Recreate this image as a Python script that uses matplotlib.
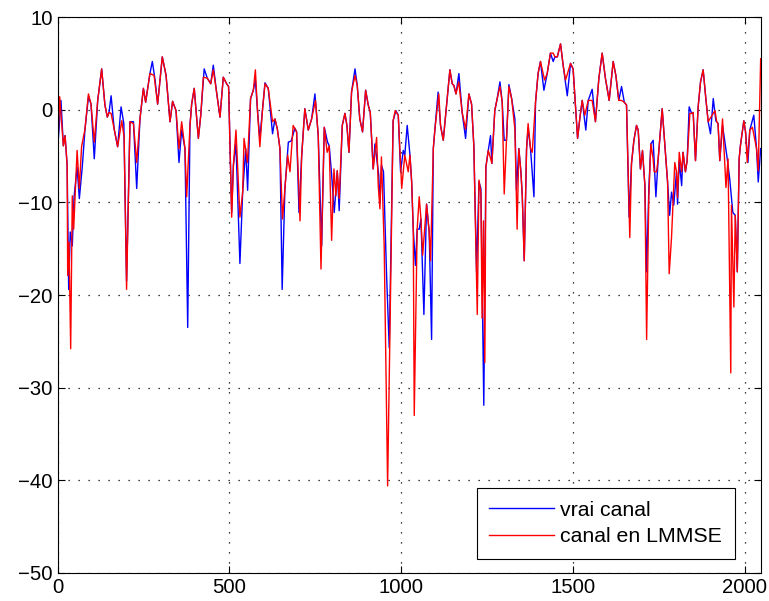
import matplotlib
matplotlib.use("Agg")
import matplotlib.pyplot as plt

# vrai canal (blue) : sample index / amplitude in dB
x_vrai = [0, 10, 17, 22, 28, 32.5, 37, 43, 48, 57, 63.5, 72, 80, 90, 97.5, 107, 117, 128.5, 138, 145,
          150, 156, 165, 175, 185, 193, 201, 211, 221, 230.5, 240, 250, 256.5, 269, 276, 284, 291.5, 305, 316, 327.5,
          335, 345, 353.6, 361.4, 371, 379, 385.6, 390.5, 398, 410, 417, 427, 436, 446, 453.5, 463, 473, 482.6, 492.3, 498,
          507, 512, 519.5, 531, 539, 548, 553.4, 562, 570, 576, 582.5, 589, 597, 604, 613.5, 626, 633, 640, 647.5, 654,
          662, 672, 680, 691, 696, 703, 710.6, 720, 730, 739.7, 749.4, 759, 769, 776.6, 786, 791, 798, 805.6, 814.4, 820,
          829, 836.7, 842.5, 848.4, 856, 866, 872.6, 880, 888, 897, 904.6, 910.5, 919, 924, 935, 938.6, 943, 949, 958, 965.7,
          977, 985, 992, 998.7, 1006.5, 1011, 1018, 1026, 1031, 1035.6, 1042, 1047, 1053, 1058, 1066.6, 1074.4, 1082, 1089, 1094, 1098.7,
          1108, 1115, 1123, 1132.6, 1142.3, 1149, 1154, 1160, 1168.5, 1178, 1188, 1197.6, 1205.4, 1212, 1220, 1227, 1232.5, 1241, 1247, 1254,
          1260.6, 1264.5, 1273, 1280, 1288, 1294.6, 1300.4, 1307, 1314, 1322, 1331.5, 1336, 1343, 1349, 1353, 1358.7, 1365.5, 1370, 1377, 1387,
          1391.6, 1399, 1406, 1416, 1425.6, 1435, 1443, 1448, 1455, 1464.4, 1472, 1484, 1493.5, 1501, 1506, 1514, 1521, 1527.5, 1538, 1545,
          1556.5, 1566, 1576, 1585.6, 1595, 1606, 1617.7, 1625.4, 1634, 1642, 1650, 1656.5, 1664, 1671, 1678, 1685.6, 1690.5, 1697, 1703, 1710,
          1715, 1721.5, 1727.3, 1734, 1742, 1748.7, 1760.3, 1771, 1776, 1782, 1787.5, 1794, 1802, 1805, 1810, 1817, 1821, 1828, 1833, 1838.9,
          1846, 1850.5, 1857.3, 1865, 1872, 1879.6, 1887.4, 1894.2, 1901, 1909, 1916.5, 1923, 1928, 1936, 1949, 1957, 1966, 1973, 1979, 1984.4,
          1988, 1998, 2003, 2010, 2015.4, 2027, 2035, 2040, 2047]
y_vrai = [-4.5, 1.0, -3.9, -2.8, -6.0, -19.4, -13.2, -14.7, -9.5, -6.2, -9.6, -6.2, -2.1, 1.4, 0.6, -5.3, 1.0, 4.4, 0.5, -0.8,
          -0.3, 1.5, -2.1, -4.0, 0.3, -1.5, -18.5, -1.3, -1.3, -8.5, -1.0, 2.3, 0.8, 3.9, 5.2, 3.2, 0.6, 5.7, 3.7, -1.3,
          0.9, -0.1, -5.7, -2.2, -4.2, -23.5, -1.7, 0.6, 2.3, -3.1, -0.6, 4.4, 3.4, 2.8, 4.8, 1.9, -0.8, 3.5, 2.8, 2.5,
          -11.1, -6.0, -3.7, -16.6, -8.9, -4.2, -8.7, 1.2, 2.1, 3.2, -0.3, -3.1, 0.1, 2.9, 2.3, -2.6, -1.0, -2.1, -4.2, -19.4,
          -8.5, -3.5, -3.4, -2.0, -2.4, -11.1, -5.1, 0.1, -2.2, -1.0, 1.7, -2.8, -14.7, -1.9, -3.5, -3.9, -7.0, -11.1, -6.6, -10.9,
          -1.7, -0.4, -1.7, -4.6, 1.9, 4.4, 2.6, -1.0, -2.4, 2.1, 0.5, -0.3, -6.4, -3.7, -7.0, -10.1, -6.0, -6.7, -17.9, -25.7,
          -1.2, -0.1, -0.6, -6.7, -4.4, -4.9, -1.7, -4.9, -7.8, -12.9, -16.8, -12.9, -12.9, -11.8, -22.1, -10.2, -13.2, -24.8, -4.2, -2.1,
          1.9, -1.7, -3.3, 0.5, 4.3, 2.8, 2.6, 1.7, 3.9, -0.3, -3.1, 1.7, 0.6, -3.9, -17.5, -7.8, -8.5, -31.9, -6.2, -4.4,
          -2.8, -5.8, -0.1, 1.2, 3.0, 0.8, -3.3, -3.3, 2.7, 1.2, -1.0, -8.7, -4.2, -6.7, -9.3, -16.3, -4.2, -2.0, -4.2, -9.4,
          0.8, 3.9, 5.2, 2.1, 3.9, 6.1, 5.2, 5.7, 5.7, 7.1, 4.8, 1.5, 5.0, 4.4, 1.5, -3.1, -0.8, 1.0, -2.2, 1.0,
          2.2, -1.3, 3.4, 6.1, 3.4, 1.0, 5.2, 3.7, 1.0, 2.5, 0.8, 0.5, -11.6, -5.8, -3.3, -1.7, -2.2, -6.4, -4.4, -8.2,
          -17.5, -8.5, -3.7, -3.3, -9.4, -5.3, 0.1, -5.3, -7.8, -11.4, -8.9, -10.3, -6.7, -10.2, -5.5, -8.2, -4.6, -6.7, -5.5, 0.3,
          -0.4, -0.3, -5.5, 0.3, 3.0, 4.3, 1.2, -1.3, -2.6, 1.2, -1.2, -1.5, -5.5, -1.7, -5.1, -7.5, -11.1, -11.4, -17.5, -5.3,
          -3.9, -1.2, -2.4, -5.7, -2.2, -0.6, -4.2, -7.8, -4.2]

# canal en LMMSE (red)
x_lmmse = [0, 6.3, 17, 22, 28, 29.6, 33.4, 38.3, 43, 47, 57, 63.5, 70, 80, 90, 97.5, 107, 117, 128.5, 138,
           145, 150, 156, 165, 175, 187, 194, 201, 211, 221, 230.5, 240, 250, 256.5, 269, 281, 291.5, 305, 316, 327.5,
           335, 345, 353.6, 361.4, 371, 376, 385.6, 390.5, 398, 410, 417, 424.4, 436, 446, 453.5, 463, 473, 482.6, 492.3, 498,
           507, 512, 519.5, 531, 539, 543, 553, 562, 570, 576, 582.5, 589, 597, 604, 613.5, 626, 633, 640, 647.5, 655,
           662, 670, 676.7, 686, 696, 706, 710.6, 720, 730, 739.7, 751, 759, 767, 776.6, 785, 791, 798, 804.7, 810.5, 814.4,
           820, 829, 836.7, 842.5, 848.4, 856, 866, 872.6, 880, 888, 897, 904.6, 910.5, 919, 929, 933.7, 938.6, 943, 951, 961,
           977, 983, 992, 1002, 1011, 1021, 1026, 1031, 1035.6, 1038.5, 1047, 1053, 1058, 1063, 1074.4, 1082, 1086, 1094, 1098.7, 1110,
           1115, 1123, 1132.6, 1142.3, 1149, 1154, 1160, 1168, 1178, 1188, 1197.6, 1205.4, 1212, 1222, 1227, 1232.5, 1236, 1240, 1244, 1247,
           1254, 1258, 1264.5, 1273, 1280, 1288, 1294.6, 1300.4, 1307, 1314, 1322, 1331.5, 1338, 1343, 1349, 1353, 1358.7, 1365.5, 1370, 1377,
           1382, 1391.6, 1399, 1406, 1418, 1425.6, 1435, 1443, 1448, 1455, 1464.4, 1472, 1479, 1493.5, 1501, 1506, 1514, 1521, 1527.5, 1535,
           1545, 1556.5, 1566, 1576, 1585.6, 1595, 1606, 1617.7, 1625.4, 1634, 1642, 1650, 1656.5, 1666, 1671, 1678, 1685.6, 1690.5, 1697, 1703,
           1710, 1715, 1721.5, 1727.3, 1734, 1737, 1744, 1748.7, 1760.3, 1771, 1776, 1780.7, 1787.5, 1797, 1802, 1805, 1810, 1817, 1821, 1828,
           1833, 1841, 1846, 1850.5, 1857.3, 1865, 1872, 1879.6, 1887.4, 1894.2, 1899, 1914, 1919, 1923, 1928, 1936, 1946, 1952, 1960, 1962,
           1969, 1973, 1979, 1984.4, 1988, 1998, 2003, 2008, 2015.4, 2023, 2035, 2040, 2047]
y_lmmse = [-4.9, 1.4, -3.9, -2.8, -6.0, -17.9, -14.3, -25.8, -9.3, -12.9, -4.4, -8.5, -4.0, -2.1, 1.7, 0.6, -3.5, 1.0, 4.4, 0.5,
           -0.8, -0.3, -0.4, -2.1, -4.0, -1.2, -3.0, -19.4, -1.3, -1.5, -5.7, -1.0, 2.3, 0.8, 3.9, 3.7, 0.6, 5.7, 3.7, -1.3,
           0.9, -0.1, -4.2, -1.3, -4.2, -9.4, -1.7, 0.6, 2.3, -3.1, -0.6, 3.5, 3.4, 2.8, 4.3, 1.9, -0.8, 3.5, 2.8, 2.5,
           -11.6, -6.0, -2.2, -11.6, -8.9, -3.1, -5.7, 1.2, 2.1, 4.3, -0.3, -4.0, 0.1, 2.8, 2.3, -1.3, -1.0, -2.1, -4.2, -11.8,
           -8.5, -4.9, -6.7, -1.7, -2.4, -12.0, -5.1, 0.1, -2.2, -1.0, 1.0, -2.8, -17.2, -1.9, -4.6, -3.9, -14.1, -6.4, -9.3, -6.6,
           -9.6, -1.7, -0.4, -1.7, -4.6, 1.9, 3.7, 2.6, -1.0, -2.4, 2.1, 0.5, -0.3, -6.4, -3.0, -8.2, -10.7, -5.1, -14.7, -40.6,
           -1.2, -0.1, -0.6, -8.5, -4.9, -6.7, -4.9, -7.8, -12.9, -33.0, -12.9, -9.4, -11.8, -15.7, -10.2, -13.2, -16.3, -4.2, -2.1, 1.7,
           -1.7, -3.3, 0.5, 4.3, 2.8, 2.6, 1.7, 3.0, -0.3, -2.1, 1.7, 0.6, -3.9, -22.1, -7.6, -9.0, -22.5, -12.0, -27.3, -6.2,
           -4.4, -4.9, -5.8, -0.1, 1.2, 2.5, 0.8, -9.1, -3.3, 2.5, 1.2, -2.1, -12.9, -4.2, -6.7, -9.3, -16.3, -4.2, -1.5, -4.2,
           -4.6, 0.8, 3.9, 5.2, 3.2, 3.9, 6.1, 6.1, 5.7, 5.7, 7.1, 4.8, 3.2, 5.0, 4.4, 1.5, -3.1, -0.8, 1.0, -0.6,
           1.0, 1.0, -1.3, 3.4, 6.1, 3.4, 1.0, 5.2, 3.7, 1.0, 1.0, 0.8, 0.5, -13.8, -5.8, -3.3, -1.7, -2.2, -6.4, -4.4,
           -8.2, -24.8, -9.3, -3.7, -5.3, -6.7, -6.7, -5.3, 0.1, -5.3, -7.8, -17.7, -13.8, -5.7, -6.7, -9.5, -4.6, -6.7, -4.6, -6.7,
           -5.5, -0.4, -0.4, -0.3, -5.5, 0.3, 3.0, 4.3, 1.2, -1.3, -1.0, -0.1, -1.3, -1.5, -5.5, -1.0, -8.4, -5.3, -28.4, -10.3,
           -21.3, -11.4, -17.5, -5.3, -3.9, -1.2, -2.4, -5.7, -2.2, -1.9, -4.2, -6.6, 5.5]

labels = ['vrai canal', 'canal en LMMSE']

plt.rcParams['font.family'] = ['Liberation Sans', 'DejaVu Sans']

fig = plt.figure(figsize=(7.69, 6.01), dpi=100)
ax = fig.add_axes([0.0748, 0.0466, 0.9148, 0.9251])

ax.plot(x_vrai, y_vrai, color='#0000ff', lw=1.0, label=labels[0])
ax.plot(x_lmmse, y_lmmse, color='#ff0000', lw=1.0, label=labels[1])

ax.set_xlim(0, 2048)
ax.set_ylim(-50, 10)
ax.set_xticks([0, 500, 1000, 1500, 2000])
ax.set_yticks([-50, -40, -30, -20, -10, 0, 10])
ax.grid(True, color='black', linestyle=(0, (1, 7)), linewidth=0.9)
ax.tick_params(direction='in', top=True, right=True, labelsize=14.6, length=5, width=0.8)
for s in ax.spines.values():
    s.set_linewidth(0.8)

leg = ax.legend(loc='lower right', bbox_to_anchor=(0.963, 0.025), fontsize=15.3,
                fancybox=False, framealpha=1, edgecolor='black', handlelength=3.05,
                handletextpad=0.3, borderaxespad=0, borderpad=0.6, labelspacing=0.35)
leg.get_frame().set_linewidth(0.8)

fig.savefig('out.png', dpi=100)
